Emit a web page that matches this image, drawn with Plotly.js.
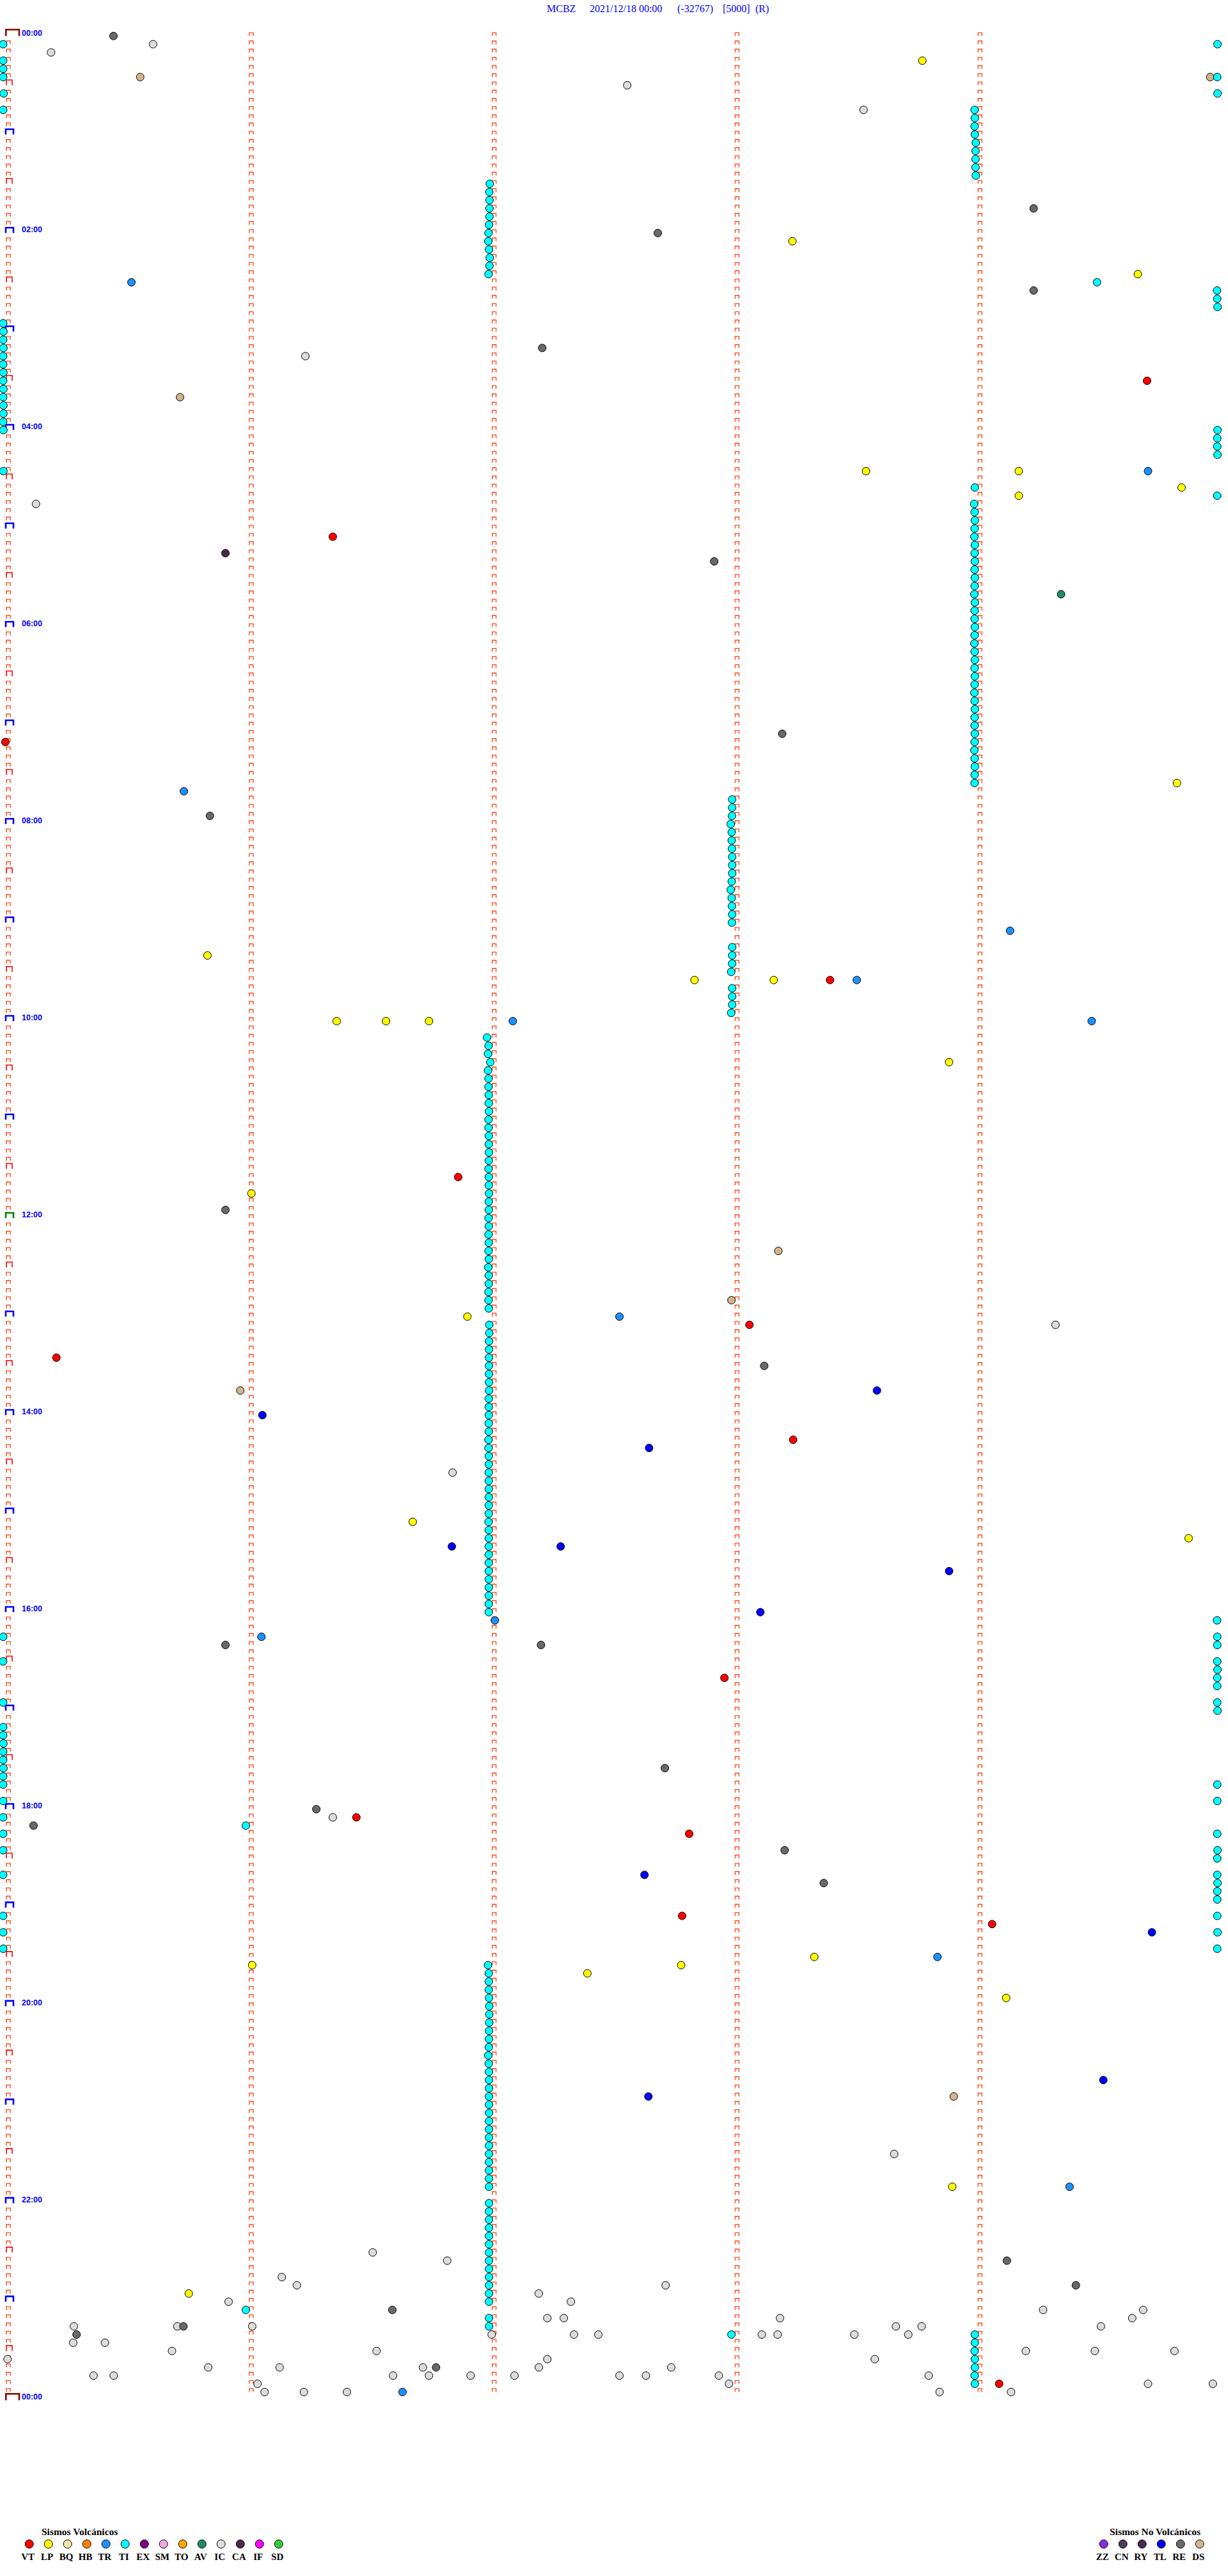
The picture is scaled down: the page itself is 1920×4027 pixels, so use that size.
<!DOCTYPE html>
<html><head><meta charset="utf-8">
<script src="https://cdn.plot.ly/plotly-3.0.1.min.js"></script>
<style>html,body{margin:0;padding:0;background:#fff;}#chart{width:1920px;height:4027px;}</style>
</head><body><div id="chart"></div>
<script>
// ---------------- DATA ----------------
const stationTitle = ['MCBZ', '2021/12/18 00:00', '(-32767)', '[5000]', '(R)'];
const volcanicTypes  = ['VT','LP','BQ','HB','TR','TI','EX','SM','TO','AV','IC','CA','IF','SD'];
const volcanicColors = ['#FF0000','#FFFF00','#EEE8AA','#FF8000','#1E90FF','#00FFFF','#800080','#EEA8E8','#FFA500','#208B6A','#DCDCDC','#4A2A48','#FF00FF','#32CD32'];
const nonVolcanicTypes  = ['ZZ','CN','RY','TL','RE','DS'];
const nonVolcanicColors = ['#8A2BE2','#4E3C5E','#4A2A50','#0000FF','#696969','#D2B48C'];
const rowsPerDay = 288;          // 5-minute rows
const minutesPerRow = 5;

// events: row index (5-minute line) and minute inside the line
const vtRow = [42, 61, 86, 115, 139, 157, 161, 171, 200, 217, 219, 229, 230, 286];
const vtMin = [4.69, 1.338, -0.01, 3.385, 1.854, 3.053, 0.2, 3.233, 2.95, 1.435, 2.805, 2.776, 4.052, 4.081];

const lpRow = [3, 25, 29, 53, 53, 55, 56, 91, 112, 115, 115, 120, 120, 120, 125, 141, 156, 181, 183, 234, 235, 235, 236, 239, 262, 275];
const lpMin = [3.765, 3.23, 4.652, 3.533, 4.162, 4.832, 4.162, 4.813, 0.822, 2.827, 3.153, 1.354, 1.557, 1.734, 3.875, 1.003, 1.892, 1.667, 4.861, 3.32, 1.006, 2.772, 2.386, 4.11, 3.888, 0.745];

const trRow = [30, 53, 92, 109, 115, 120, 120, 156, 193, 195, 234, 262, 287];
const trMin = [0.509, 4.694, 0.725, 4.126, 3.495, 2.079, 4.462, 2.518, 2.005, 1.044, 3.827, 4.371, 1.625];

const tlRow = [165, 168, 172, 184, 184, 187, 192, 224, 231, 249, 251];
const tlMin = [3.578, 1.048, 2.640, 1.828, 2.276, 3.875, 3.098, 2.621, 4.71, 4.51, 2.637];

const reRow = [0, 21, 24, 31, 38, 64, 85, 95, 143, 162, 196, 196, 211, 216, 218, 221, 225, 271, 274, 277, 279, 280, 284];
const reMin = [0.435, 4.223, 2.676, 4.223, 2.2, 2.908, 3.188, 0.832, 0.896, 3.114, 0.896, 2.195, 2.705, 1.27, 0.106, 3.198, 3.359, 4.113, 4.397, 1.583, 0.723, 0.283, 1.763];

const dsRow = [5, 5, 44, 148, 154, 165, 251];
const dsMin = [0.545, 4.950, 0.709, 3.172, 2.979, 0.957, 3.894];

const caRow = [63];
const caMin = [0.896];
const avRow = [68];
const avMin = [4.336];

const icRow = [1, 2, 6, 9, 39, 57, 157, 175, 217, 258, 270, 271, 273, 274, 274, 275, 276, 276, 277, 277,
  278, 278, 278, 278, 279, 279, 279, 279, 279, 279, 280, 280, 280, 280, 280, 280, 280, 281, 281, 282,
  282, 282, 282, 282, 283, 283, 283, 284, 284, 284, 284, 284, 285, 285, 285, 285, 285, 285, 285, 285,
  285, 285, 286, 286, 286, 286, 287, 287, 287, 287, 287];
const icMin = [0.598, 0.178, 2.55, 3.523, 1.225, 0.116, 4.313, 1.831, 1.338, 3.649, 1.502, 1.809, 1.128, 1.19, 2.708, 2.186, 0.909, 2.318, 4.262, 4.674,
  2.221, 2.289, 3.179, 4.629, 0.272, 0.698, 1.006, 3.656, 3.762, 4.5, 1.992, 2.331, 2.431, 3.104, 3.169, 3.485, 3.707, 0.269, 0.4, 0.676,
  1.518, 4.191, 4.475, 4.803, -0.001, 2.221, 3.569, 0.825, 1.119, 1.709, 2.186, 2.731, 0.353, 0.436, 1.586, 1.734, 1.905, 2.086, 2.518, 2.627,
  2.927, 3.791, 1.028, 2.969, 4.694, 4.961, 1.057, 1.219, 1.396, 3.836, 4.13];

// TI (cyan) events, grouped by where they sit on the drum
const tiLeftRow = [1,3,4,5,7,9,35,36,37,38,39,40,41,42,43,44,45,46,47,48,53,195,198,203,206,207,208,209,210,211,212,213,215,217,219,221,224,229,231,233];
const tiLeftMin = [-0.019,-0.019,-0.019,-0.019,-0.017,-0.019,-0.019,-0.018,-0.019,-0.018,-0.019,-0.019,-0.018,-0.019,-0.018,-0.019,-0.018,-0.018,-0.019,-0.018,-0.018,-0.019,-0.019,-0.019,-0.019,-0.019,-0.018,-0.019,-0.019,-0.018,-0.019,-0.019,-0.019,-0.019,-0.019,-0.019,-0.019,-0.019,-0.019,-0.019];
const tiRightRow = [1,5,7,31,32,33,48,49,50,51,56,193,195,196,198,199,200,201,203,204,213,215,219,221,222,224,225,226,227,229,231,233];
const tiRightMin = [4.980,4.979,4.980,4.978,4.979,4.980,4.980,4.979,4.979,4.980,4.979,4.978,4.979,4.979,4.979,4.980,4.979,4.979,4.979,4.980,4.979,4.979,4.979,4.980,4.979,4.979,4.980,4.979,4.979,4.979,4.980,4.979];
const tiColARow = [9,10,11,12,13,14,15,16,17,55,57,58,59,60,61,62,63,64,65,66,67,68,69,70,71,72,73,74,75,76,77,78,79,80,81,82,83,84,85,86,87,88,89,90,91,280,281,282,283,284,285,286];
const tiColAMin = [3.980,3.981,3.980,3.981,3.985,3.984,3.984,3.984,3.985,3.981,3.978,3.980,3.981,3.980,3.979,3.981,3.980,3.981,3.980,3.981,3.980,3.979,3.981,3.980,3.980,3.981,3.980,3.979,3.980,3.981,3.980,3.981,3.980,3.979,3.980,3.981,3.980,3.980,3.981,3.980,3.979,3.980,3.981,3.980,3.980,3.981,3.981,3.980,3.981,3.981,3.980,3.981];
const tiColBRow = [18,19,20,21,22,23,24,25,26,27,28,29,
  122,123,124,125,126,127,128,129,130,131,132,133,134,135,136,137,138,139,140,141,142,143,144,145,146,147,148,149,150,151,152,153,154,155,
  157,158,159,160,161,162,163,164,165,166,167,168,169,170,171,172,173,174,175,176,177,178,179,180,181,182,183,184,185,186,187,188,189,190,191,192,
  235,236,237,238,239,240,241,242,243,244,245,246,247,248,249,250,251,252,253,254,255,256,257,258,259,260,261,262,
  264,265,266,267,268,269,270,271,272,273,274,275,276,278,279];
const tiColBMin = [1.984,1.982,1.983,1.983,1.983,1.981,1.979,1.978,1.981,1.984,1.983,1.979,
  1.973,1.979,1.977,1.986,1.977,1.979,1.979,1.980,1.980,1.981,1.979,1.979,1.980,1.980,1.981,1.980,1.979,1.980,1.980,1.981,1.980,1.980,1.979,1.980,1.979,1.980,1.979,1.980,1.978,1.980,1.980,1.979,1.979,1.980,
  1.982,1.982,1.981,1.981,1.981,1.981,1.981,1.981,1.981,1.980,1.980,1.980,1.980,1.980,1.979,1.979,1.980,1.980,1.980,1.980,1.980,1.980,1.980,1.980,1.979,1.980,1.980,1.980,1.980,1.980,1.980,1.980,1.980,1.980,1.980,1.980,
  1.977,1.980,1.980,1.980,1.981,1.982,1.982,1.982,1.981,1.981,1.980,1.978,1.980,1.981,1.981,1.981,1.981,1.981,1.981,1.981,1.981,1.981,1.981,1.981,1.981,1.981,1.981,1.981,
  1.981,1.981,1.981,1.981,1.981,1.981,1.981,1.981,1.981,1.981,1.981,1.981,1.981,1.981,1.981];
const tiColCRow = [93,94,95,96,97,98,99,100,101,102,103,104,105,106,107,108,111,112,113,114,116,117,118,119];
const tiColCMin = [2.982,2.982,2.981,2.976,2.980,2.980,2.981,2.982,2.982,2.982,2.980,2.976,2.980,2.981,2.982,2.981,2.982,2.982,2.982,2.978,2.982,2.982,2.982,2.978];
const tiOtherRow = [30, 218, 277, 280];
const tiOtherMin = [4.484, 0.980, 0.980, 2.979];

// ---------------- GEOMETRY (pixels of the drum) ----------------
const W = 1920, H = 4027;
const PX_MIN = 379.8, MIN0_PX = 12.2;     // x pixel of minute 0 and pixels per minute
const PX_ROW = 12.833, ROW0_PX = 56.3;    // y pixel of row 0 baseline and pixels per row
const MAIN_BOTTOM_PX = 3860, LEG_TOP_PX = 3865;

const colorOf = {};
volcanicTypes.forEach((t, i) => colorOf[t] = volcanicColors[i]);
nonVolcanicTypes.forEach((t, i) => colorOf[t] = nonVolcanicColors[i]);

const groups = [
  ['TI', tiLeftRow, tiLeftMin], ['TI', tiRightRow, tiRightMin], ['TI', tiColARow, tiColAMin],
  ['TI', tiColBRow, tiColBMin], ['TI', tiColCRow, tiColCMin], ['TI', tiOtherRow, tiOtherMin],
  ['VT', vtRow, vtMin], ['LP', lpRow, lpMin], ['TR', trRow, trMin], ['TL', tlRow, tlMin],
  ['RE', reRow, reMin], ['DS', dsRow, dsMin], ['CA', caRow, caMin], ['AV', avRow, avMin], ['IC', icRow, icMin]
];
let ev = [];
groups.forEach(([t, rows, mins]) => rows.forEach((r, i) => ev.push({r: r, m: mins[i], c: colorOf[t], k: r * minutesPerRow + mins[i]})));
ev.sort((a, b) => a.k - b.k);

// ---------------- TRACE MARKS ("⊓" minute ticks) ----------------
function addBracket(o, k, r, leftPx, widthPx, heightPx) {
  const xl = k + leftPx / PX_MIN, xr = xl + widthPx / PX_MIN, yt = r - heightPx / PX_ROW;
  o.x.push(xl, xl, xr, xr, null); o.y.push(r, yt, yt, r, null);
}
const small = {x: [], y: []}, red = {x: [], y: []}, blue = {x: [], y: []}, dred = {x: [], y: []}, green = {x: [], y: []};
const hourLabels = [];
for (let r = 0; r <= rowsPerDay; r++) {
  if (r < rowsPerDay) for (let k = 1; k < minutesPerRow; k++) addBracket(small, k, r, -2.2, 6, 5.2);
  if (r % 288 === 0) addBracket(dred, 0, r, -2.9, 20.7, 10);
  else if (r === 144) addBracket(green, 0, r, -3.2, 12, 8.3);
  else if (r % 12 === 0) addBracket(blue, 0, r, -3.2, 12, 8.3);
  else if (r % 6 === 0) addBracket(red, 0, r, -2.2, 9, 8.3);
  else addBracket(small, 0, r, -2.2, 6, 5.2);
  if (r % 24 === 0) {
    const hh = String((r / 12) % 24).padStart(2, '0');
    hourLabels.push({r: r, text: hh + ':00'});
  }
}
function lineTrace(o, color, width) {
  return {type: 'scatter', mode: 'lines', x: o.x, y: o.y, line: {color: color, width: width}, hoverinfo: 'skip', showlegend: false, xaxis: 'x', yaxis: 'y'};
}

const traces = [
  lineTrace(small, '#FF4A1A', 1.4),
  lineTrace(red, '#FF0000', 1.6),
  lineTrace(blue, '#0000FF', 2.6),
  lineTrace(green, '#008000', 2.6),
  lineTrace(dred, '#8B0000', 2.6),
  {type: 'scatter', mode: 'markers', x: ev.map(e => e.m), y: ev.map(e => e.r), cliponaxis: false,
   marker: {size: 12, color: ev.map(e => e.c), line: {color: '#000', width: 1}}, hoverinfo: 'skip', showlegend: false, xaxis: 'x', yaxis: 'y'}
];

// legend (bottom) on its own pixel-scaled axes
const legVX = volcanicTypes.map((t, i) => 45.7 + 30 * i);
const legNX = nonVolcanicTypes.map((t, i) => 1725.7 + 30 * i);
traces.push({type: 'scatter', mode: 'markers', x: legVX.concat(legNX), y: legVX.concat(legNX).map(() => 3977),
  marker: {size: 13, color: volcanicColors.concat(nonVolcanicColors), line: {color: '#000', width: 1}}, hoverinfo: 'skip', showlegend: false, xaxis: 'x2', yaxis: 'y2', cliponaxis: false});
traces.push({type: 'scatter', mode: 'text', x: legVX.concat(legNX).map(v => v - 2), y: legVX.concat(legNX).map(() => 3998),
  text: volcanicTypes.concat(nonVolcanicTypes), textfont: {family: 'Liberation Serif, serif', size: 15, color: '#000', weight: 'bold'},
  hoverinfo: 'skip', showlegend: false, xaxis: 'x2', yaxis: 'y2', cliponaxis: false});

const annotations = [];
const titleX = [853, 920, 1057, 1128, 1179];
stationTitle.forEach((s, i) => annotations.push({xref: 'paper', yref: 'paper', x: titleX[i] / W, y: 1 - 14 / H, xanchor: 'left', yanchor: 'middle',
  text: s, showarrow: false, font: {family: 'Liberation Serif, serif', size: 16, color: '#0000FF'}}));
hourLabels.forEach(h => annotations.push({xref: 'x', yref: 'y', x: (32 - MIN0_PX) / PX_MIN, y: h.r, yshift: 4.8, xanchor: 'left', yanchor: 'middle',
  text: '<b>' + h.text + '</b>', showarrow: false, font: {family: 'Liberation Sans, Arial, sans-serif', size: 12.5, color: '#0000FF'}}));
annotations.push({xref: 'x2', yref: 'y2', x: 124, y: 3957, xanchor: 'center', yanchor: 'middle', text: '<b>Sismos Volcánicos</b>', showarrow: false,
  font: {family: 'Liberation Serif, serif', size: 15.5, color: '#000'}});
annotations.push({xref: 'x2', yref: 'y2', x: 1806, y: 3957, xanchor: 'center', yanchor: 'middle', text: '<b>Sismos No Volcánicos</b>', showarrow: false,
  font: {family: 'Liberation Serif, serif', size: 15.5, color: '#000'}});

const hidden = {showgrid: false, zeroline: false, showticklabels: false, showline: false, ticks: '', fixedrange: true};
const layout = {
  width: W, height: H, margin: {l: 0, r: 0, t: 0, b: 0, pad: 0},
  paper_bgcolor: '#fff', plot_bgcolor: '#fff', showlegend: false,
  xaxis: Object.assign({range: [-MIN0_PX / PX_MIN, (W - MIN0_PX) / PX_MIN], domain: [0, 1], anchor: 'y'}, hidden),
  yaxis: Object.assign({range: [(MAIN_BOTTOM_PX - ROW0_PX) / PX_ROW, -ROW0_PX / PX_ROW], domain: [(H - MAIN_BOTTOM_PX) / H, 1], anchor: 'x'}, hidden),
  xaxis2: Object.assign({range: [0, W], domain: [0, 1], anchor: 'y2'}, hidden),
  yaxis2: Object.assign({range: [H, LEG_TOP_PX], domain: [0, (H - LEG_TOP_PX) / H], anchor: 'x2'}, hidden),
  annotations: annotations
};
Plotly.newPlot('chart', traces, layout, {staticPlot: true, displayModeBar: false});
</script></body></html>
